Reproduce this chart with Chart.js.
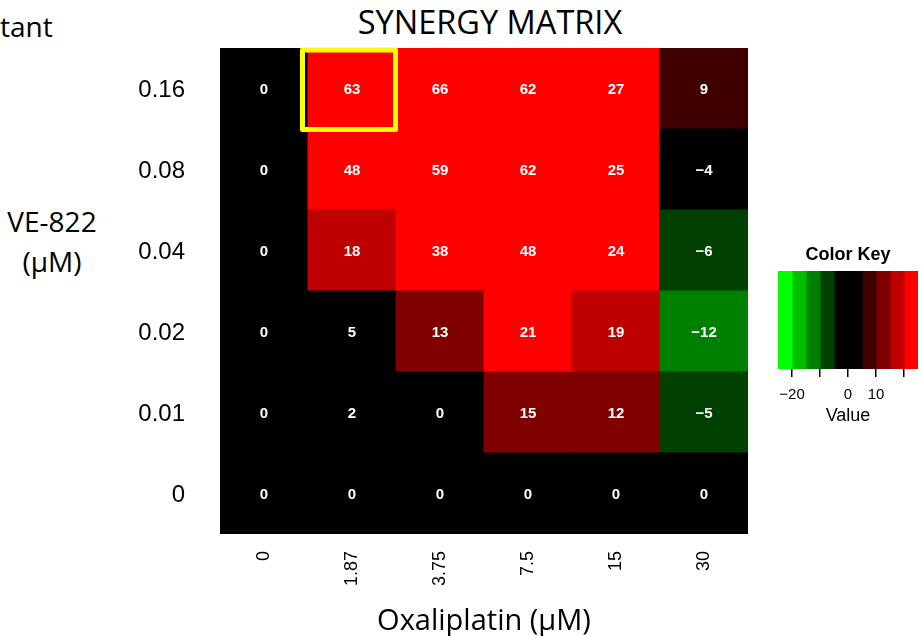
<!DOCTYPE html>
<html>
<head>
<meta charset="utf-8">
<script src="https://cdn.jsdelivr.net/npm/chart.js@4/dist/chart.umd.min.js"></script>
<style>
  html, body { margin: 0; padding: 0; background: #fff; }
  body { width: 923px; height: 636px; position: relative; overflow: hidden; }
  .cal { position: absolute; font-family: 'Open Sans', sans-serif; color: #000; white-space: nowrap; }
  #main { position: absolute; left: 0; top: 0; }
  #key { position: absolute; left: 760px; top: 230px; }
</style>
</head>
<body>
<div class="cal" style="left:0;top:12px;font-size:28px;line-height:28px;">tant</div>
<div class="cal" style="left:0;width:104px;top:201px;font-size:28px;line-height:40px;text-align:center;">VE-822<br>(μM)</div>
<div class="cal" style="left:340px;width:300px;top:6px;font-size:32.5px;line-height:31px;text-align:center;">SYNERGY MATRIX</div>
<canvas id="main" width="923" height="636"></canvas>
<canvas id="key" width="163" height="200"></canvas>
<script>
// ---- data ----
const oxaliplatinLabels = ['0', '1.87', '3.75', '7.5', '15', '30'];      // x categories (µM)
const ve822Labels = ['0', '0.01', '0.02', '0.04', '0.08', '0.16'];        // y categories, bottom to top (µM)
const synergyVe0    = [0, 0, 0, 0, 0, 0];
const synergyVe001  = [0, 2, 0, 15, 12, -5];
const synergyVe002  = [0, 5, 13, 21, 19, -12];
const synergyVe004  = [0, 18, 38, 48, 24, -6];
const synergyVe008  = [0, 48, 59, 62, 25, -4];
const synergyVe016  = [0, 63, 66, 62, 27, 9];
const highlightVe = '0.16';
const highlightOxa = '1.87';
// colour key
const keyBreaks = [-25, -20, -15, -10, -5, 0, 5, 10, 15, 20, 25];
const keyColors = ['#00FF00', '#00BF00', '#008000', '#004000', '#000000', '#000000', '#400000', '#800000', '#BF0000', '#FF0000'];
const keyTickValues = [-20, -10, 0, 10, 20];
const keyTickLabels = ['\u221220', '', '0', '10', ''];

const synergyRows = [synergyVe0, synergyVe001, synergyVe002, synergyVe004, synergyVe008, synergyVe016];

function colorFor(v) {
  // right-closed intervals (a, b], like R's image()
  for (let i = 0; i < keyColors.length; i++) {
    if (v <= keyBreaks[i + 1]) return keyColors[i];
  }
  return keyColors[keyColors.length - 1];
}

const ARIAL = "'Liberation Sans', Arial, sans-serif";
const CAL = "'Open Sans', sans-serif";

const cellDatasets = synergyRows.map((vals, r) => ({
  label: ve822Labels[r],
  data: vals.map(() => [r, r + 1]),
  synergy: vals,
  backgroundColor: vals.map(colorFor),
  borderWidth: 0,
  inflateAmount: 0.5,
  grouped: false,
  barPercentage: 1,
  categoryPercentage: 1
}));

const cellTextPlugin = {
  id: 'cellText',
  afterDatasetsDraw(chart) {
    const ctx = chart.ctx;
    ctx.save();
    ctx.fillStyle = '#FFFFFF';
    ctx.font = 'bold 15px ' + ARIAL;
    ctx.textAlign = 'center';
    ctx.textBaseline = 'middle';
    chart.data.datasets.forEach((ds, di) => {
      const meta = chart.getDatasetMeta(di);
      meta.data.forEach((el, i) => {
        const v = ds.synergy[i];
        const txt = v < 0 ? '\u2212' + Math.abs(v) : String(v);
        ctx.fillText(txt, el.x, (el.y + el.base) / 2 + 1);
      });
    });
    // highlight box
    const r = ve822Labels.indexOf(highlightVe);
    const c = oxaliplatinLabels.indexOf(highlightOxa);
    const el = chart.getDatasetMeta(r).data[c];
    const left = el.x - el.width / 2, right = el.x + el.width / 2;
    const top = Math.min(el.y, el.base), bottom = Math.max(el.y, el.base);
    ctx.strokeStyle = '#FFFF00';
    ctx.lineWidth = 5;
    ctx.lineJoin = 'round';
    ctx.strokeRect(left - 5.5, top + 2, (right - 0.5) - (left - 5.5), (bottom + 0.5) - (top + 2));
    ctx.restore();
  }
};

new Chart(document.getElementById('main'), {
  type: 'bar',
  data: { labels: oxaliplatinLabels, datasets: cellDatasets },
  options: {
    responsive: false,
    animation: false,
    devicePixelRatio: 1,
    layout: { padding: { left: 0, right: 175, top: 48, bottom: 0 } },
    plugins: { legend: { display: false }, tooltip: { enabled: false }, title: { display: false } },
    scales: {
      x: {
        type: 'category',
        grid: { display: false },
        border: { display: false },
        ticks: {
          color: '#000', font: { family: ARIAL, size: 18 },
          maxRotation: 90, minRotation: 90, padding: 9, autoSkip: false
        },
        title: {
          display: true, text: 'Oxaliplatin (μM)', color: '#000',
          font: { family: CAL, size: 29, lineHeight: 1 }, padding: { top: 0, bottom: 0 }
        },
        afterFit(scale) { scale.height = 102; }
      },
      y: {
        type: 'linear', min: 0, max: ve822Labels.length,
        grid: { display: false },
        border: { display: false },
        afterBuildTicks(scale) { scale.ticks = ve822Labels.map((l, i) => ({ value: i + 0.5 })); },
        ticks: {
          color: '#000', font: { family: ARIAL, size: 24 }, padding: 27, labelOffset: 2,
          callback: (val, idx) => ve822Labels[idx]
        },
        afterFit(scale) { scale.width = 220; }
      }
    }
  },
  plugins: [cellTextPlugin]
});

// ---- colour key ----
const keyDatasets = keyColors.map((col, i) => ({
  data: [[keyBreaks[i], keyBreaks[i + 1]]],
  backgroundColor: col,
  borderWidth: 0,
  inflateAmount: 0.6,
  grouped: false,
  barPercentage: 1,
  categoryPercentage: 1
}));

// dark underlay so that anti-aliased seams between equal-coloured bins stay invisible
const keyUnderlay = {
  id: 'keyUnderlay',
  beforeDatasetsDraw(chart) {
    const a = chart.chartArea, ctx = chart.ctx;
    const x0 = chart.scales.x.getPixelForValue(keyBreaks[4]);
    const x1 = chart.scales.x.getPixelForValue(keyBreaks[6]);
    ctx.save();
    ctx.fillStyle = keyColors[4];
    ctx.fillRect(x0, a.top, x1 - x0, a.bottom - a.top);
    ctx.restore();
  }
};

new Chart(document.getElementById('key'), {
  type: 'bar',
  data: { labels: ['key'], datasets: keyDatasets },
  options: {
    indexAxis: 'y',
    responsive: false,
    animation: false,
    devicePixelRatio: 1,
    layout: { padding: { left: 18, right: 5, top: 0, bottom: 0 } },
    plugins: {
      legend: { display: false }, tooltip: { enabled: false },
      title: {
        display: true, text: 'Color Key', color: '#000', fullSize: false,
        font: { family: ARIAL, size: 18, weight: 'bold', lineHeight: 1.2 },
        padding: { top: 14, bottom: 5.4 }
      }
    },
    scales: {
      y: { display: false },
      x: {
        type: 'linear', min: keyBreaks[0], max: keyBreaks[keyBreaks.length - 1],
        afterBuildTicks(scale) { scale.ticks = keyTickValues.map(v => ({ value: v })); },
        grid: { display: true, drawOnChartArea: false, drawTicks: true, tickLength: 8, color: '#000', lineWidth: 1.5 },
        border: { display: false },
        ticks: {
          color: '#000', font: { family: ARIAL, size: 15 }, padding: 9, maxRotation: 0, autoSkip: false,
          callback: (val, idx) => keyTickLabels[idx]
        },
        title: {
          display: true, text: 'Value', color: '#000',
          font: { family: ARIAL, size: 18, lineHeight: 1.2 }, padding: { top: 0, bottom: 3 }
        },
        afterFit(scale) { scale.height = 61; }
      }
    }
  },
  plugins: [keyUnderlay]
});
</script>
</body>
</html>
